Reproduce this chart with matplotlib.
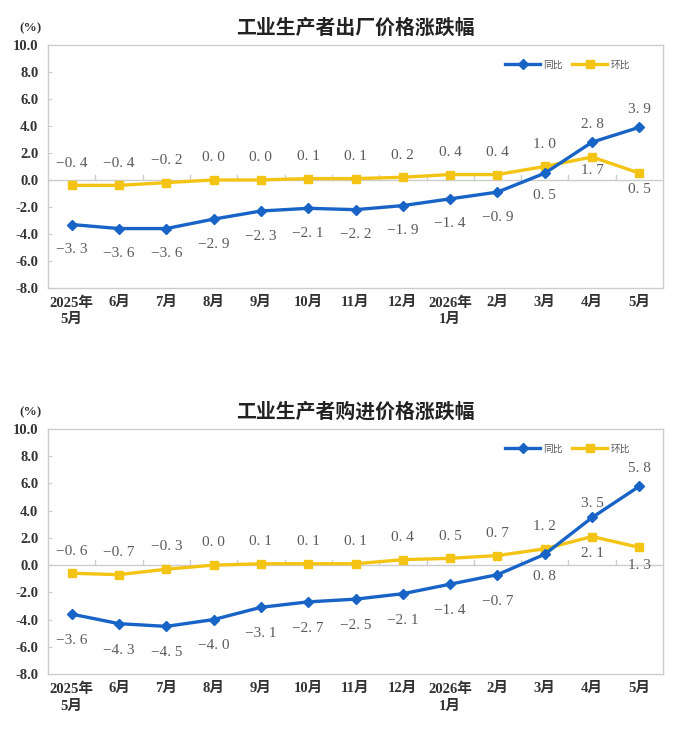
import matplotlib
matplotlib.use("Agg")
import matplotlib.pyplot as plt
from matplotlib.transforms import offset_copy

plt.rcParams['font.family'] = ['Liberation Serif', 'Noto Sans CJK SC', 'DejaVu Sans']

categories = ["2025年\n5月", "6月", "7月", "8月", "9月", "10月", "11月", "12月",
              "2026年\n1月", "2月", "3月", "4月", "5月"]

titles = ["工业生产者出厂价格涨跌幅", "工业生产者购进价格涨跌幅"]

ppi_yoy = [-3.3, -3.6, -3.6, -2.9, -2.3, -2.1, -2.2, -1.9, -1.4, -0.9, 0.5, 2.8, 3.9]
ppi_mom = [-0.4, -0.4, -0.2, 0.0, 0.0, 0.1, 0.1, 0.2, 0.4, 0.4, 1.0, 1.7, 0.5]
pur_yoy = [-3.6, -4.3, -4.5, -4.0, -3.1, -2.7, -2.5, -2.1, -1.4, -0.7, 0.8, 3.5, 5.8]
pur_mom = [-0.6, -0.7, -0.3, 0.0, 0.1, 0.1, 0.1, 0.4, 0.5, 0.7, 1.2, 2.1, 1.3]

yticks = [10.0, 8.0, 6.0, 4.0, 2.0, 0.0, -2.0, -4.0, -6.0, -8.0]

BLUE = "#1763C6"
YELLOW = "#F4C414"
GREY = "#CCCCCC"
LABEL = "#5A5A5A"

fig = plt.figure(figsize=(6.73, 7.30), dpi=100)
axes_rects = [[0.0713, 0.6055, 0.914, 0.333], [0.0713, 0.0767, 0.914, 0.3356]]

# label offsets in points (dy) for yoy and mom series
yoy_off = [
    [-18] * 10 + [-16, 13, 13],
    [-19] * 10 + [-16, 10, 13],
]
mom_off = [
    [16] * 11 + [-10, -12],
    [16] * 11 + [-12, -13],
]


def fmt(v):
    s = f"{abs(v):.1f}".replace('.', '. ')
    return ("\u2212" + s) if v < 0 else s


datasets = [(ppi_yoy, ppi_mom), (pur_yoy, pur_mom)]

for k, (yoy, mom) in enumerate(datasets):
    ax = fig.add_axes(axes_rects[k])
    x = list(range(len(categories)))
    ax.plot(x, yoy, color=BLUE, lw=2.4, marker='D', ms=5.5, label="同比", zorder=4)
    ax.plot(x, mom, color=YELLOW, lw=2.4, marker='s', ms=6, label="环比", zorder=3)
    ax.set_xlim(-0.5, len(categories) - 0.5)
    ax.set_ylim(-8, 10)
    ax.set_yticks(yticks)
    ax.set_yticklabels([f"{v:.1f}" for v in yticks], fontsize=10.5, fontweight='bold',
                       color="#333333")
    ax.set_xticks(x)
    ax.set_xticklabels(categories, fontsize=10.5, fontweight='bold', color="#333333",
                       linespacing=1.35)
    ax.tick_params(axis='x', length=0, pad=6)
    ax.tick_params(axis='y', length=3, direction='in', color=GREY, pad=7)
    for s in ax.spines.values():
        s.set_color(GREY)
        s.set_linewidth(1.0)
    ax.axhline(0, color=GREY, lw=1.0, zorder=1)
    for b in range(len(categories) - 1):
        ax.plot([b + 0.5, b + 0.5], [0, 0.35], color=GREY, lw=1.0, zorder=1)

    for i, v in enumerate(yoy):
        tr = offset_copy(ax.transData, fig=fig, x=0, y=yoy_off[k][i], units='points')
        ax.text(i, v, fmt(v), transform=tr, ha='center', va='center',
                fontsize=11, color=LABEL)
    for i, v in enumerate(mom):
        tr = offset_copy(ax.transData, fig=fig, x=0, y=mom_off[k][i], units='points')
        ax.text(i, v, fmt(v), transform=tr, ha='center', va='center',
                fontsize=11, color=LABEL)

    leg = ax.legend(loc='upper right', bbox_to_anchor=(0.96, 0.975), ncol=2, frameon=False,
                    handlelength=3.6, columnspacing=1.0, handletextpad=0.3,
                    prop={'family': ['Noto Sans CJK SC'], 'size': 7})
    for t in leg.get_texts():
        t.set_color("#555555")

    ax.set_title(titles[k], fontsize=14.3, fontweight='bold', family=['Noto Sans CJK SC'],
                 color="#222222", pad=8)
    ax.text(-0.028, 1.07, "(%)", transform=ax.transAxes, fontsize=9.5, fontweight='bold',
            color="#333333", ha='center', va='center')

fig.savefig("out.png", dpi=100, facecolor='white')
